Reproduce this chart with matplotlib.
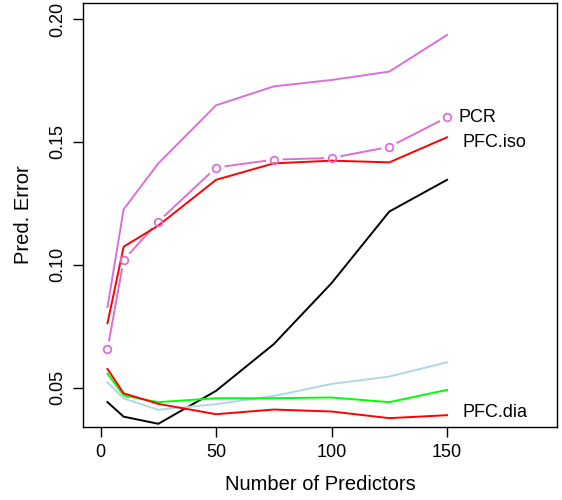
import matplotlib
matplotlib.use("Agg")
import matplotlib.pyplot as plt

plt.rcParams['font.family'] = ['Liberation Sans', 'DejaVu Sans']

npred = [3, 10, 25, 50, 75, 100, 125, 150]

pcr_top = [0.0829, 0.1226, 0.1413, 0.1649, 0.1726, 0.1752, 0.1786, 0.1935]
pcr = [0.0657, 0.1020, 0.1176, 0.1396, 0.1428, 0.1435, 0.1480, 0.1600]
pfc_iso = [0.0763, 0.1074, 0.1160, 0.1346, 0.1413, 0.1424, 0.1417, 0.1519]
black_err = [0.0442, 0.0383, 0.0354, 0.0488, 0.0678, 0.0926, 0.1217, 0.1346]
green_err = [0.0558, 0.0469, 0.0442, 0.0458, 0.0458, 0.0461, 0.0442, 0.0492]
pfc_dia = [0.0577, 0.0478, 0.0435, 0.0393, 0.0412, 0.0404, 0.0377, 0.0389]
blue_err = [0.0523, 0.0457, 0.0411, 0.0434, 0.0467, 0.0516, 0.0546, 0.0604]

line_labels = ['PCR', 'PFC.iso', 'PFC.dia']

fig = plt.figure(figsize=(5.62, 5.0), dpi=100)
ax = fig.add_axes([0.1477, 0.146, 0.8434, 0.848])

lw = 1.4
orchid = '#DA70D6'

# PCR line sits underneath, white discs cut gaps around its points
ax.plot(npred, pcr, color=orchid, lw=lw, zorder=1)
ax.plot(npred, pcr, ls='none', marker='o', ms=12, mfc='white', mec='none', zorder=2)

ax.plot(npred, pcr_top, color=orchid, lw=lw, zorder=3)
ax.plot(npred, pfc_iso, color='red', lw=lw, zorder=3)
ax.plot(npred, black_err, color='black', lw=lw, zorder=3)
ax.plot(npred, blue_err, color='#ADD8E6', lw=lw, zorder=3)
ax.plot(npred, green_err, color='#00FF00', lw=lw, zorder=3)
ax.plot(npred, pfc_dia, color='red', lw=lw, zorder=3)
ax.plot(npred, pcr, ls='none', marker='o', ms=5.5, mfc='none', mec=orchid, mew=1.3, zorder=4)

ax.text(154.8, pcr[-1], line_labels[0], fontsize=13, va='center', ha='left')
ax.text(156.5, 0.1496, line_labels[1], fontsize=13, va='center', ha='left')
ax.text(156.5, 0.0398, line_labels[2], fontsize=13, va='center', ha='left')

ax.set_xlim(-7.6, 197.6)
ax.set_ylim(0.0341, 0.2065)
ax.set_xticks([0, 50, 100, 150])
ax.set_yticks([0.05, 0.10, 0.15, 0.20])
ax.set_yticklabels(['0.05', '0.10', '0.15', '0.20'], rotation=90, va='center')
ax.tick_params(direction='out', length=7, width=1, labelsize=13, pad=5)
for s in ax.spines.values():
    s.set_linewidth(1)

ax.set_xlabel('Number of Predictors', fontsize=14.5, labelpad=10)
ax.set_ylabel('Pred. Error', fontsize=14.5, labelpad=12)

fig.savefig('out.png', dpi=100)
